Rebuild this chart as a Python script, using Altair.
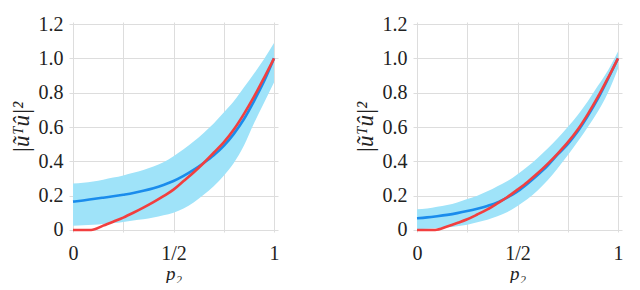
import altair as alt
import pandas as pd

# ---- data ----
p = [0, 0.05, 0.1, 0.15, 0.2, 0.25, 0.3, 0.35, 0.4, 0.45, 0.5,
     0.55, 0.6, 0.65, 0.7, 0.75, 0.8, 0.85, 0.9, 0.95, 1.0]

red_p = [0, 0.09, 0.15, 0.2, 0.25, 0.3, 0.35, 0.4, 0.45, 0.5,
         0.55, 0.6, 0.65, 0.7, 0.75, 0.8, 0.85, 0.9, 0.95, 1.0]

left_red = [0, 0, 0.025, 0.048, 0.072, 0.1, 0.13, 0.162, 0.197, 0.235,
            0.285, 0.335, 0.39, 0.45, 0.51, 0.585, 0.675, 0.775, 0.885, 1.0]
left_blue = [0.165, 0.172, 0.18, 0.188, 0.196, 0.205, 0.215, 0.228, 0.243, 0.262, 0.285,
             0.315, 0.35, 0.39, 0.435, 0.49, 0.56, 0.645, 0.75, 0.865, 1.0]
left_hi = [0.27, 0.275, 0.283, 0.293, 0.305, 0.318, 0.333, 0.35, 0.37, 0.395, 0.43,
           0.47, 0.515, 0.565, 0.62, 0.684, 0.75, 0.83, 0.91, 0.995, 1.09]
left_lo = [0.025, 0.027, 0.03, 0.035, 0.04, 0.047, 0.055, 0.062, 0.072, 0.085, 0.1,
           0.125, 0.16, 0.205, 0.255, 0.316, 0.39, 0.49, 0.62, 0.74, 0.86]

right_red = [0, 0, 0.02, 0.04, 0.062, 0.09, 0.12, 0.155, 0.192, 0.235,
             0.28, 0.33, 0.385, 0.445, 0.51, 0.585, 0.675, 0.775, 0.885, 1.0]
right_blue = [0.068, 0.073, 0.08, 0.088, 0.098, 0.11, 0.124, 0.14, 0.16, 0.19, 0.225,
              0.27, 0.32, 0.375, 0.44, 0.5, 0.575, 0.665, 0.765, 0.88, 1.0]
right_hi = [0.12, 0.125, 0.135, 0.145, 0.16, 0.18, 0.2, 0.225, 0.255, 0.285, 0.325,
            0.37, 0.42, 0.475, 0.535, 0.6, 0.67, 0.75, 0.84, 0.93, 1.04]
right_lo = [0.005, 0.007, 0.01, 0.015, 0.022, 0.03, 0.045, 0.06, 0.08, 0.105, 0.14,
            0.18, 0.23, 0.29, 0.36, 0.435, 0.515, 0.6, 0.69, 0.8, 0.94]

x_ticks = [0, 0.25, 0.5, 0.75, 1]
y_ticks = [0, 0.2, 0.4, 0.6, 0.8, 1.0, 1.2]

BAND = "#9fe3f9"
BLUE = "#1a8cec"
RED = "#f23f3f"
FONT = "'Liberation Serif', 'DejaVu Serif', 'Times New Roman', serif"


def panel(blue, red, lo, hi):
    df = pd.DataFrame({"p": p, "blue": blue, "lo": lo, "hi": hi})
    dr = pd.DataFrame({"p": red_p, "red": red})
    xs = alt.Scale(domain=[-0.02, 1.02], nice=False, zero=False)
    ys = alt.Scale(domain=[-0.012, 1.212], nice=False, zero=False)
    xax = alt.Axis(values=x_ticks, title="p₂", grid=True, labelOverlap=False,
                   labelFont=FONT, titleFont=FONT,
                   labelExpr="datum.value == 0 ? '0' : datum.value == 0.5 ? '1/2' : datum.value == 1 ? '1' : ''")
    yax = alt.Axis(values=y_ticks, title="|ũᵀû|²", grid=True, labelOverlap=False,
                   labelFont=FONT, titleFont=FONT,
                   labelExpr="datum.value == 0 ? '0' : format(datum.value, '.1f')")
    band = alt.Chart(df).mark_area(color=BAND, opacity=1, interpolate="monotone").encode(
        x=alt.X("p:Q", scale=xs, axis=xax),
        y=alt.Y("lo:Q", scale=ys, axis=yax),
        y2="hi:Q",
    )
    bl = alt.Chart(df).mark_line(color=BLUE, strokeWidth=2.6, interpolate="monotone").encode(
        x=alt.X("p:Q", scale=xs, axis=xax), y=alt.Y("blue:Q", scale=ys, axis=yax)
    )
    rl = alt.Chart(dr).mark_line(color=RED, strokeWidth=2.6, interpolate="monotone").encode(
        x=alt.X("p:Q", scale=xs, axis=xax), y=alt.Y("red:Q", scale=ys, axis=yax)
    )
    return alt.layer(band, bl, rl).properties(width=209, height=210)


chart = alt.hconcat(
    panel(left_blue, left_red, left_lo, left_hi),
    panel(right_blue, right_red, right_lo, right_hi),
    spacing=74,
).properties(padding={"left": 2, "top": 6, "right": 0, "bottom": 0}).configure_view(
    stroke=None
).configure_axis(
    domain=False, ticks=False, gridColor="#dddddd", gridWidth=1, labelOverlap=False,
    labelFont=FONT, labelFontSize=20, labelColor="#222222",
    titleFont=FONT, titleFontStyle="italic", titleFontWeight="normal",
    titleColor="#222222",
).configure_axisX(labelPadding=11, titlePadding=1, titleFontSize=19, labelFlush=False).configure_axisY(
    labelPadding=6, titlePadding=5, titleFontSize=23
)

chart.save("out.html", embed_options={"renderer": "svg", "actions": False})
